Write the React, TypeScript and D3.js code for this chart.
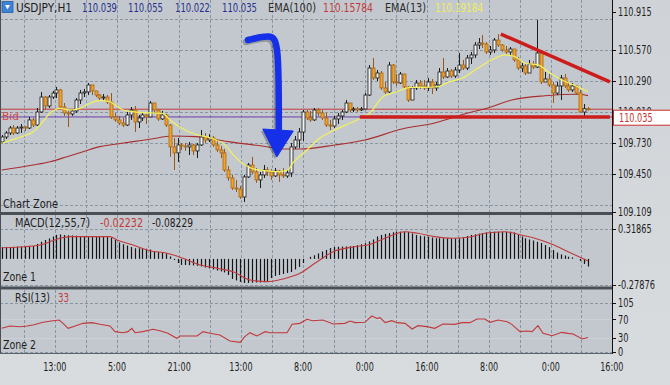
import React from 'react';
import * as d3 from 'd3';

// ---------- DATA ----------
const firstOpen = 109.739;
const closes = [
  109.784, 109.820, 109.865, 109.820, 109.865, 109.874, 109.865, 109.938, 109.892, 110.010,
  110.145, 110.064, 110.145, 110.181, 110.209, 110.055, 110.001, 109.992, 110.019, 110.118,
  110.181, 110.191, 110.254, 110.200, 110.163, 110.136, 110.145, 110.100, 109.965, 109.938,
  109.910, 109.892, 109.983, 110.028, 109.920, 109.956, 109.983, 109.965, 110.091, 110.028,
  109.947, 109.983, 109.892, 109.694, 109.640, 109.712, 109.703, 109.694, 109.712, 109.658,
  109.712, 109.784, 109.757, 109.775, 109.712, 109.667, 109.640, 109.486, 109.414, 109.323,
  109.314, 109.242, 109.423, 109.531, 109.468, 109.396, 109.441, 109.486, 109.468, 109.432,
  109.477, 109.441, 109.432, 109.459, 109.694, 109.757, 109.829, 110.010, 109.956, 109.938,
  110.028, 110.001, 109.956, 109.892, 109.883, 109.947, 109.974, 110.010, 110.091, 110.028,
  110.037, 110.028, 110.037, 110.163, 110.407, 110.317, 110.362, 110.227, 110.191, 110.434,
  110.281, 110.272, 110.353, 110.236, 110.118, 110.227, 110.272, 110.245, 110.227, 110.281,
  110.227, 110.254, 110.371, 110.326, 110.380, 110.335, 110.389, 110.434, 110.407, 110.498,
  110.525, 110.615, 110.633, 110.624, 110.552, 110.570, 110.660, 110.615, 110.570, 110.552,
  110.579, 110.480, 110.407, 110.425, 110.362, 110.443, 110.416, 110.543, 110.281, 110.308,
  110.254, 110.181, 110.245, 110.317, 110.245, 110.209, 110.245, 110.181, 110.010, 110.039,
  110.035,
];
const highs = [
  109.802, 109.838, 109.883, 109.892, 109.883, 109.901, 109.883, 109.965, 109.956, 110.046,
  110.191, 110.154, 110.163, 110.200, 110.236, 110.218, 110.091, 110.028, 110.037, 110.136,
  110.209, 110.218, 110.272, 110.245, 110.200, 110.172, 110.172, 110.163, 110.181, 110.001,
  109.974, 109.956, 110.010, 110.055, 110.064, 109.983, 110.010, 109.992, 110.109, 110.082,
  110.037, 110.019, 109.992, 109.901, 109.775, 109.775, 109.730, 109.730, 109.739, 109.721,
  109.730, 109.847, 109.820, 109.811, 109.793, 109.757, 109.703, 109.676, 109.522, 109.441,
  109.396, 109.341, 109.441, 109.549, 109.604, 109.504, 109.468, 109.531, 109.513, 109.495,
  109.504, 109.486, 109.504, 109.486, 109.730, 109.793, 109.865, 110.028, 110.028, 110.019,
  110.046, 110.046, 110.028, 110.001, 109.938, 109.974, 110.001, 110.028, 110.118, 110.082,
  110.055, 110.055, 110.055, 110.181, 110.434, 110.498, 110.389, 110.380, 110.281, 110.462,
  110.443, 110.353, 110.371, 110.335, 110.245, 110.245, 110.299, 110.299, 110.299, 110.317,
  110.308, 110.281, 110.407, 110.498, 110.407, 110.398, 110.416, 110.543, 110.480, 110.525,
  110.552, 110.642, 110.678, 110.705, 110.642, 110.606, 110.678, 110.714, 110.624, 110.606,
  110.597, 110.570, 110.507, 110.453, 110.443, 110.480, 110.471, 110.841, 110.543, 110.371,
  110.353, 110.281, 110.281, 110.344, 110.353, 110.281, 110.272, 110.254, 110.209, 110.082,
  110.055,
];
const lows = [
  109.721, 109.766, 109.802, 109.802, 109.811, 109.820, 109.838, 109.856, 109.874, 109.883,
  110.001, 110.028, 110.046, 110.127, 110.136, 110.046, 109.974, 109.874, 109.974, 110.001,
  110.082, 110.145, 110.163, 110.163, 110.145, 110.118, 110.118, 110.082, 109.947, 109.920,
  109.892, 109.874, 109.883, 109.938, 109.829, 109.865, 109.929, 109.901, 109.992, 109.992,
  109.929, 109.938, 109.874, 109.604, 109.486, 109.558, 109.667, 109.658, 109.621, 109.621,
  109.594, 109.703, 109.730, 109.739, 109.694, 109.649, 109.594, 109.468, 109.387, 109.305,
  109.287, 109.224, 109.197, 109.414, 109.450, 109.369, 109.323, 109.414, 109.432, 109.396,
  109.423, 109.378, 109.414, 109.414, 109.423, 109.676, 109.685, 109.748, 109.938, 109.920,
  109.929, 109.974, 109.938, 109.874, 109.847, 109.865, 109.901, 109.938, 110.001, 110.010,
  110.010, 110.010, 110.019, 110.037, 110.154, 110.299, 110.290, 110.209, 110.172, 110.181,
  110.263, 110.245, 110.263, 110.218, 110.100, 110.118, 110.209, 110.218, 110.209, 110.200,
  110.172, 110.200, 110.245, 110.308, 110.317, 110.317, 110.317, 110.362, 110.389, 110.389,
  110.443, 110.498, 110.579, 110.588, 110.534, 110.525, 110.543, 110.597, 110.552, 110.534,
  110.516, 110.462, 110.389, 110.371, 110.344, 110.362, 110.398, 110.407, 110.263, 110.281,
  110.236, 110.091, 110.163, 110.118, 110.227, 110.191, 110.191, 110.163, 110.001, 109.974,
  110.022,
];

// EMA(13) yellow line, [bar index, price]
const ema13Pts: [number, number][] = [
  [0, 109.727], [3.8, 109.772], [6.4, 109.802], [8.1, 109.832], [9.8, 109.892], [12.4, 109.998],
  [14.9, 110.043], [17.5, 110.028], [20.0, 110.043], [22.6, 110.089], [25.1, 110.112], [27.7, 110.103],
  [29.0, 110.073], [31.0, 110.028], [33.6, 110.013], [37.9, 110.001], [41.0, 109.998], [43.6, 109.922],
  [46.9, 109.847], [50.2, 109.802], [53.8, 109.772], [57.1, 109.712], [59.7, 109.606], [62.2, 109.531],
  [64.8, 109.492], [67.4, 109.480], [70.7, 109.471], [73.2, 109.486], [74.5, 109.549], [78.1, 109.667],
  [81.4, 109.775], [84.7, 109.838], [90.9, 109.938], [94.2, 109.998], [97.5, 110.148], [101.1, 110.193],
  [104.5, 110.233], [107.8, 110.233], [111.4, 110.238], [114.7, 110.284], [117.8, 110.314], [121.8, 110.405],
  [126.2, 110.495], [128.8, 110.525], [131.3, 110.510], [133.9, 110.450], [137.2, 110.435], [139.8, 110.374],
  [143.3, 110.299], [147.4, 110.238], [150, 110.192],
];
// EMA(100) dark red line
const ema100Pts: [number, number][] = [
  [0, 109.486], [8.0, 109.531], [12.4, 109.561], [16.7, 109.606], [20.8, 109.651], [25.1, 109.697],
  [29.5, 109.721], [33.6, 109.742], [37.9, 109.763], [43.6, 109.793], [49.5, 109.787], [57.9, 109.742],
  [66.6, 109.703], [72.5, 109.676], [76.3, 109.676], [85.3, 109.712], [92.9, 109.757], [102.4, 109.856],
  [110.8, 109.911], [119.3, 110.001], [124.4, 110.046], [130.5, 110.118], [139.0, 110.157], [147.4, 110.170],
  [150, 110.158],
];

const macdHist = [
  0.127, 0.127, 0.127, 0.129, 0.131, 0.132, 0.134, 0.135, 0.138, 0.159,
  0.183, 0.202, 0.218, 0.239, 0.257, 0.260, 0.255, 0.252, 0.250, 0.247,
  0.244, 0.244, 0.242, 0.241, 0.240, 0.239, 0.237, 0.234, 0.223, 0.202,
  0.175, 0.156, 0.142, 0.127, 0.113, 0.113, 0.111, 0.108, 0.100, 0.084,
  0.074, 0.066, 0.058, 0.026, -0.012, -0.044, -0.065, -0.065, -0.068, -0.070,
  -0.074, -0.081, -0.092, -0.102, -0.113, -0.124, -0.134, -0.145, -0.172, -0.214,
  -0.230, -0.246, -0.257, -0.257, -0.255, -0.252, -0.252, -0.249, -0.241, -0.204,
  -0.182, -0.172, -0.161, -0.150, -0.140, -0.113, -0.086, -0.044, 0.001, 0.022,
  0.038, 0.058, 0.079, 0.095, 0.116, 0.127, 0.129, 0.131, 0.133, 0.135,
  0.138, 0.145, 0.156, 0.167, 0.186, 0.207, 0.239, 0.255, 0.266, 0.274,
  0.284, 0.290, 0.290, 0.290, 0.287, 0.271, 0.255, 0.247, 0.241, 0.237,
  0.228, 0.220, 0.220, 0.220, 0.220, 0.220, 0.220, 0.220, 0.228, 0.244,
  0.255, 0.262, 0.269, 0.274, 0.282, 0.290, 0.290, 0.290, 0.290, 0.290,
  0.290, 0.282, 0.257, 0.239, 0.220, 0.207, 0.196, 0.183, 0.170, 0.148,
  0.125, 0.095, 0.068, 0.047, 0.036, 0.023, 0.015, 0.001, -0.022, -0.054,
  -0.082,
];
const macdSignal: [number, number][] = [
  [0, 0.119], [4.7, 0.127], [9.8, 0.148], [12.4, 0.183], [14.9, 0.220], [17.5, 0.237], [20.8, 0.237],
  [27.7, 0.237], [29.5, 0.202], [33.6, 0.148], [37.9, 0.087], [42.3, 0.060], [46.4, 0.006], [50.7, -0.065],
  [55.1, -0.100], [59.2, -0.137], [63.5, -0.225], [67.9, -0.243], [72.0, -0.214], [76.3, -0.154],
  [80.7, -0.030], [84.8, 0.077], [90.4, 0.130], [93.7, 0.148], [98.1, 0.220], [103.2, 0.290], [106.5, 0.273],
  [110.8, 0.237], [115.2, 0.220], [119.3, 0.230], [123.6, 0.273], [128.8, 0.290], [132.1, 0.262],
  [136.4, 0.220], [140.8, 0.156], [144.9, 0.077], [150, -0.022],
];
const rsiPts: [number, number][] = [
  [0, 50.8], [2.1, 55.7], [4.7, 54], [6.5, 55.7], [8.0, 57.9], [10.6, 63.6], [13.1, 67], [14.7, 68.6],
  [15.7, 61.4], [17.0, 50.7], [18.8, 55.7], [20.8, 61.4], [23.1, 62.9], [25.1, 59.3], [27.7, 55.7],
  [29.0, 43.6], [31.0, 41.4], [32.3, 43.6], [33.3, 50.7], [34.1, 41.4], [36.1, 43.6], [38.7, 48.6],
  [40.5, 45.7], [42.5, 40], [44.8, 29.3], [45.6, 34.3], [50.0, 34.3], [51.5, 43.6], [53.3, 40],
  [55.8, 36.4], [58.4, 23.6], [61.0, 20.7], [62.2, 32.9], [63.5, 41.4], [65.3, 34.3], [67.4, 43.6],
  [68.6, 41.4], [73.0, 41.4], [74.3, 59.3], [76.3, 61.4], [78.1, 70], [79.6, 67.1], [82.2, 68.6],
  [84.8, 60], [87.8, 61.4], [89.1, 66.4], [90.4, 62.9], [92.9, 63.6], [94.7, 77.1], [96.0, 72],
  [96.8, 73.6], [98.1, 62.9], [99.8, 67.1], [101.1, 62.9], [103.2, 61.4], [105.0, 49.3], [106.5, 56.4],
  [108.8, 54.3], [110.8, 50.7], [112.9, 60], [115.9, 59.3], [117.8, 62.9], [119.8, 62.9], [121.6, 70.7],
  [123.6, 70.7], [124.9, 63.6], [127.0, 68.6], [129.3, 65], [130.5, 59.3], [132.6, 43.6], [134.4, 45],
  [135.7, 43.6], [137.2, 56.4], [138.5, 40], [140.8, 35], [143.3, 42.1], [144.9, 40], [146.2, 38.6],
  [148.5, 27.9], [150, 31],
];

const timeLabels = ['13:00', '5:00', '21:00', '13:00', '8:00', '0:00', '16:00', '8:00', '0:00', '16:00'];
const timeLabelIdx = [13.6, 29.5, 45.4, 61.2, 77.1, 92.9, 108.8, 124.7, 140.5, 156.1];
const mainTickLabels = [110.915, 110.570, 110.290, 110.010, 109.730, 109.450, 109.109];
const mainGridLevels = [110.850, 110.570, 110.290, 110.010, 109.730, 109.450, 109.170];
const macdTickLabels = [0.31865, -0.27876];
const rsiTickLabels = [105, 70, 30, 0];
const rsiLevels = [70, 30];

const bidPrice = 110.035;
const hLinePrice = 109.965;
const trendLinePts: [number, number][] = [[127.7, 110.714], [155.6, 110.281]];
const supportPts: [number, number][] = [[91.6, 109.965], [155.6, 109.965]];
const arrowShaft: [number, number][] = [[63.0, 110.660], [69.0, 110.712], [70.9, 110.640], [70.9, 109.850]];
const arrowHead: [number, number][] = [[66.8, 109.856], [74.6, 109.838], [70.4, 109.604]];

const headerOHLC = ['110.039', '110.055', '110.022', '110.035'];
const ema100Text = '110.15784';
const ema13Text = '110.19184';
const macdTexts = ['-0.02232', '-0.08229'];
const rsiText = '33';

// ---------- COMPONENT ----------
const FONT = "'DejaVu Sans Condensed', 'Liberation Sans', Arial, sans-serif";

type TProps = { x: number; y: number; w?: number; fill?: string; size?: number; dy?: string; anchor?: string; children: React.ReactNode };
function T({ x, y, w, fill = '#1e1e1e', size = 11, dy, anchor, children }: TProps) {
  const extra: any = {};
  if (w) { extra.textLength = w; extra.lengthAdjust = 'spacingAndGlyphs'; }
  return <text x={x} y={y} dy={dy} fill={fill} fontSize={size} textAnchor={anchor} {...extra}>{children}</text>;
}

// approximate label width in the reference's narrow UI font
function refWidth(s: string) {
  let w = 0;
  for (const ch of s) {
    if (ch >= '0' && ch <= '9') w += 5.2;
    else if (ch === '.' || ch === ':' || ch === ',') w += 2.4;
    else if (ch === '-') w += 3.4;
    else w += 6;
  }
  return w;
}

export default function App() {
  const W = 670, H = 385;
  const axisX = 612;
  const x = d3.scaleLinear().domain([0, 150]).range([1.7, 588]);
  const yMain = d3.scaleLinear().domain([109.109, 110.915]).range([211.7, 11.8]);
  const yMacd = d3.scaleLinear().domain([-0.27876, 0.31865]).range([285, 229]);
  const yRsi = d3.scaleLinear().domain([0, 105]).range([352, 303]);

  const mainLine = d3.line<[number, number]>().x(d => x(d[0])).y(d => yMain(d[1])).curve(d3.curveMonotoneX);
  const macdLine = d3.line<[number, number]>().x(d => x(d[0])).y(d => yMacd(d[1])).curve(d3.curveMonotoneX);
  const rsiLine = d3.line<[number, number]>().x(d => x(d[0])).y(d => yRsi(d[1]));
  const straight = d3.line<[number, number]>().x(d => x(d[0])).y(d => yMain(d[1]));
  const arrowCurve = d3.line<[number, number]>().x(d => x(d[0])).y(d => yMain(d[1])).curve(d3.curveBasis);

  const vGrid: number[] = [];
  const firstStep = timeLabelIdx[1] - timeLabelIdx[0];
  vGrid.push(timeLabelIdx[0] - firstStep / 2);
  timeLabelIdx.forEach((v, i) => {
    vGrid.push(v);
    if (i < timeLabelIdx.length - 1) vGrid.push((v + timeLabelIdx[i + 1]) / 2);
  });

  const panelFill = '#c3c8cf';
  const gridColor = '#8a95a2';

  const candles = closes.map((c, i) => {
    const o = i === 0 ? firstOpen : closes[i - 1];
    const h = Math.max(highs[i], o, c);
    const l = Math.min(lows[i], o, c);
    const up = c >= o;
    const cx = Math.round(x(i)) + 0.5;
    const yTop = yMain(Math.max(o, c));
    const yBot = yMain(Math.min(o, c));
    return (
      <g key={i}>
        <line x1={cx} x2={cx} y1={yMain(h)} y2={yMain(l)} stroke={up ? '#1c1c1c' : '#9a5818'} strokeWidth={1} />
        <rect x={cx - 1.5} y={yTop} width={3} height={Math.max(1, yBot - yTop)}
          fill={up ? '#f2f2f2' : '#f0a22c'} stroke={up ? '#1a1a1a' : '#a8660f'} strokeWidth={0.8} />
      </g>
    );
  });

  const fmt3 = d3.format('.3f');
  const vx = (g: number) => Math.round(x(g)) + 0.5;

  return (
    <svg width={W} height={H} style={{ position: 'absolute', left: 0, top: 0, display: 'block' }}
      fontFamily={FONT}>
      <defs>
        <linearGradient id="outer" x1="0" y1="0" x2="0" y2="1">
          <stop offset="0" stopColor="#cfd3d7" />
          <stop offset="1" stopColor="#d9dcdf" />
        </linearGradient>
        <clipPath id="mainClip"><rect x={0} y={0} width={axisX} height={212} /></clipPath>
        <clipPath id="macdClip"><rect x={0} y={215} width={axisX} height={72} /></clipPath>
        <clipPath id="rsiClip"><rect x={0} y={289} width={axisX} height={64} /></clipPath>
        <clipPath id="hiddenLabel"><rect x={axisX} y={0} width={60} height={110} /></clipPath>
      </defs>
      <rect x={0} y={0} width={W} height={H} fill="url(#outer)" />
      <rect x={0} y={0} width={axisX} height={212} fill={panelFill} />
      <rect x={0} y={215} width={axisX} height={72} fill={panelFill} />
      <rect x={0} y={289.5} width={axisX} height={63.5} fill={panelFill} />

      {vGrid.map((g, i) => (
        <g key={'vg' + i}>
          <line x1={vx(g)} x2={vx(g)} y1={0} y2={212} stroke={gridColor} strokeDasharray="3,2" />
          <line x1={vx(g)} x2={vx(g)} y1={215} y2={286} stroke={gridColor} strokeDasharray="3,2" />
          <line x1={vx(g)} x2={vx(g)} y1={290} y2={353} stroke={gridColor} strokeDasharray="3,2" />
        </g>
      ))}
      {mainGridLevels.map((p, i) => (
        <line key={'hg' + i} x1={0} x2={axisX} y1={Math.round(yMain(p)) + 0.5} y2={Math.round(yMain(p)) + 0.5} stroke={gridColor} strokeDasharray="3,2" />
      ))}
      {macdTickLabels.map((v, i) => (
        <line key={'mg' + i} x1={0} x2={axisX} y1={Math.round(yMacd(v)) + 0.5} y2={Math.round(yMacd(v)) + 0.5} stroke={gridColor} strokeDasharray="3,2" />
      ))}
      <line x1={0} x2={axisX} y1={Math.round(yRsi(105)) + 0.5} y2={Math.round(yRsi(105)) + 0.5} stroke={gridColor} strokeDasharray="3,2" />
      <line x1={0} x2={axisX} y1={Math.round(yRsi(0)) + 0.5} y2={Math.round(yRsi(0)) + 0.5} stroke={gridColor} strokeDasharray="3,2" />
      {rsiLevels.map((v, i) => (
        <line key={'rl' + i} x1={0} x2={axisX} y1={Math.round(yRsi(v)) + 0.5} y2={Math.round(yRsi(v)) + 0.5} stroke="#d2d6db" strokeOpacity={0.6} />
      ))}

      <g clipPath="url(#mainClip)">
        <line x1={0} x2={axisX} y1={yMain(bidPrice)} y2={yMain(bidPrice)} stroke="#c23b3b" strokeWidth={1} />
        <line x1={0} x2={axisX} y1={yMain(hLinePrice)} y2={yMain(hLinePrice)} stroke="#6a3fa8" strokeWidth={1} />
        <path d={mainLine(ema100Pts) || ''} fill="none" stroke="#a82e2e" strokeWidth={1.1} />
        {candles}
        <path d={mainLine(ema13Pts) || ''} fill="none" stroke="#f2f25a" strokeWidth={1.2} />
        <path d={straight(supportPts) || ''} fill="none" stroke="#cc1c1c" strokeWidth={3.5} />
        <path d={straight(trendLinePts) || ''} fill="none" stroke="#cc1c1c" strokeWidth={3.5} />
        <g transform="translate(-2,2)" opacity={0.25}>
          <path d={arrowCurve(arrowShaft) || ''} fill="none" stroke="#000" strokeWidth={6.5} strokeLinecap="round" />
          <path d={(straight(arrowHead) || '') + 'Z'} fill="#000" />
        </g>
        <path d={arrowCurve(arrowShaft) || ''} fill="none" stroke="#1530e8" strokeWidth={6.5} strokeLinecap="round" />
        <path d={(straight(arrowHead) || '') + 'Z'} fill="#1530e8" stroke="#1530e8" strokeWidth={1} strokeLinejoin="round" />
      </g>

      <g clipPath="url(#macdClip)">
        {macdHist.map((v, i) => (
          <line key={'mh' + i} x1={vx(i)} x2={vx(i)} y1={yMacd(0)} y2={yMacd(v)} stroke="#141414" strokeWidth={1.2} />
        ))}
        <path d={macdLine(macdSignal) || ''} fill="none" stroke="#c0393b" strokeWidth={1.1} />
      </g>

      <g clipPath="url(#rsiClip)">
        <path d={rsiLine(rsiPts) || ''} fill="none" stroke="#c0393b" strokeWidth={1.1} />
      </g>

      <rect x={0} y={212} width={axisX + 1} height={3} fill="#4a4f56" />
      <rect x={0} y={286.5} width={axisX + 1} height={3} fill="#4a4f56" />
      <line x1={0.5} x2={0.5} y1={0} y2={353} stroke="#4a4f56" />
      <line x1={0} x2={axisX} y1={353.5} y2={353.5} stroke="#5d636a" />
      <line x1={axisX + 0.5} x2={axisX + 0.5} y1={0} y2={354} stroke="#111" />

      {/* header */}
      <rect x={2} y={1.5} width={11} height={11} fill="#3d82d4" stroke="#2a5fa8" strokeWidth={0.8} />
      <path d="M5 5 L10 5 L7.5 9.5 Z" fill="#fff" />
      <T x={16} y={11.5} w={56} fill="#1c1c1c" size={12}>USDJPY,H1</T>
      {headerOHLC.map((t, i) => (
        <T key={'ho' + i} x={[82, 128, 175, 222][i]} y={11.5} w={35} fill="#27308a" size={12}>{t}</T>
      ))}
      <T x={268} y={11.5} w={48} fill="#2a2a2a" size={12}>EMA(100)</T>
      <T x={323} y={11.5} w={50} fill="#c23a3a" size={12}>{ema100Text}</T>
      <T x={385} y={11.5} w={41} fill="#2a2a2a" size={12}>EMA(13)</T>
      <T x={435} y={11.5} w={48} fill="#eeee5a" size={12}>{ema13Text}</T>

      <T x={2} y={120} w={17} fill="#d24a4a" size={11}>Bid</T>
      <T x={3} y={208} w={55} size={12}>Chart Zone</T>
      <T x={15} y={227} w={75} size={12}>MACD(12,55,7)</T>
      <T x={100} y={227} w={43} fill="#c23a3a" size={12}>{macdTexts[0]}</T>
      <T x={152} y={227} w={41} size={12}>{macdTexts[1]}</T>
      <T x={3} y={281} w={33} size={12}>Zone 1</T>
      <T x={15} y={302} w={35} size={12}>RSI(13)</T>
      <T x={58} y={302} w={11} fill="#c23a3a" size={12}>{rsiText}</T>
      <T x={3} y={349} w={33} size={12}>Zone 2</T>

      {/* right axis labels */}
      {mainTickLabels.map((p, i) => (
        <g key={'ml' + i} clipPath={p === 110.010 ? 'url(#hiddenLabel)' : undefined}>
          <line x1={axisX} x2={axisX + 4} y1={Math.round(yMain(p)) + 0.5} y2={Math.round(yMain(p)) + 0.5} stroke="#111" />
          <T x={axisX + 6} y={yMain(p)} dy="0.36em" w={refWidth(fmt3(p))} size={12}>{fmt3(p)}</T>
        </g>
      ))}
      {macdTickLabels.map((v, i) => (
        <g key={'mt' + i}>
          <line x1={axisX} x2={axisX + 4} y1={Math.round(yMacd(v)) + 0.5} y2={Math.round(yMacd(v)) + 0.5} stroke="#111" />
          <T x={axisX + 6} y={yMacd(v)} dy="0.36em" w={refWidth(v.toFixed(5))} size={12}>{v.toFixed(5)}</T>
        </g>
      ))}
      {rsiTickLabels.map((v, i) => (
        <g key={'rt' + i}>
          <line x1={axisX} x2={axisX + 4} y1={Math.round(yRsi(v)) + 0.5} y2={Math.round(yRsi(v)) + 0.5} stroke="#111" />
          <T x={axisX + 6} y={yRsi(v)} dy="0.36em" w={refWidth(String(v))} size={12}>{v}</T>
        </g>
      ))}
      <rect x={axisX + 1.5} y={yMain(bidPrice) + 1} width={60} height={15} fill="#ffffff" stroke="#c8302e" strokeWidth={1} />
      <T x={axisX + 7} y={yMain(bidPrice) + 8.5} dy="0.36em" w={refWidth(fmt3(bidPrice))} fill="#c8302e" size={12}>{fmt3(bidPrice)}</T>

      {/* time axis */}
      {timeLabelIdx.map((t, i) => (
        <T key={'tl' + i} x={x(t)} y={371} anchor="middle" w={refWidth(timeLabels[i])} size={12}>{timeLabels[i]}</T>
      ))}
    </svg>
  );
}
